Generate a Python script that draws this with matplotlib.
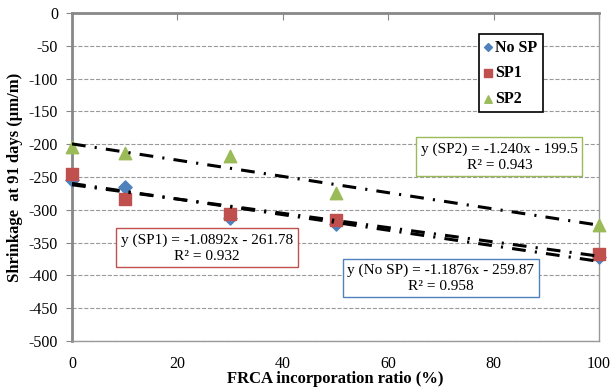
import matplotlib
matplotlib.use("Agg")
import matplotlib.pyplot as plt
import numpy as np

plt.rcParams.update({
    "font.family": ["Liberation Serif", "DejaVu Serif"],
    "font.size": 11,
    "axes.unicode_minus": False,
})

# data
x_ratio = [0, 10, 30, 50, 100]
no_sp = [-255, -265, -312, -322, -372]
sp1 = [-245, -283, -307, -315, -367]
sp2 = [-205, -213, -218, -275, -323]

# published trendline coefficients (slope, intercept, R2)
fits = {
    "No SP": (-1.1876, -259.87, 0.958),
    "SP1": (-1.0892, -261.78, 0.932),
    "SP2": (-1.240, -199.5, 0.943),
}

BLUE = "#4F81BD"
RED = "#C0504D"
GREEN = "#9BBB59"

fig = plt.figure(figsize=(6.13, 3.91), dpi=100)
ax = fig.add_axes([72 / 613, 1 - 341 / 391, 527 / 613, 328 / 391])

ax.scatter(x_ratio, no_sp, marker="D", s=45, color=BLUE, label="No SP",
           zorder=3, clip_on=False)
ax.scatter(x_ratio, sp1, marker="s", s=80, color=RED, label="SP1",
           zorder=4, clip_on=False)
ax.scatter(x_ratio, sp2, marker="^", s=80, color=GREEN, label="SP2",
           zorder=4, clip_on=False)

xx = np.array([0, 100])
for name in ["SP2", "SP1", "No SP"]:
    m, b, _ = fits[name]
    ax.plot(xx, m * xx + b, color="black", lw=2.2,
            dashes=(4.5, 3, 0.7, 3), zorder=5)

ax.set_xlim(0, 100)
ax.set_ylim(-500, 0)
ax.set_xticks(np.arange(0, 101, 20))
ax.set_yticks(np.arange(-500, 1, 50))
ax.tick_params(axis="x", top=True, bottom=False, direction="in",
               length=5, color="#888888", labelsize=11.5, pad=11)
ax.tick_params(axis="y", direction="out", length=4, color="#888888",
               labelsize=11.5, pad=6)
ax.grid(axis="y", linestyle="--", color="#999999", lw=0.8)
ax.set_axisbelow(True)
for s in ax.spines.values():
    s.set_color("#999999")
    s.set_linewidth(1.0)
ax.spines["left"].set_color("#888888")
ax.spines["left"].set_linewidth(2.0)
ax.spines["top"].set_color("#888888")
ax.spines["top"].set_linewidth(2.0)

ax.set_xlabel("FRCA incorporation ratio (%)", fontweight="bold", fontsize=12, labelpad=-1)
ax.set_ylabel("Shrinkage  at 91 days (µm/m)", fontweight="bold", fontsize=12, labelpad=4)

leg = ax.legend(loc="upper left", bbox_to_anchor=(0.772, 0.936), frameon=True,
                fancybox=False, edgecolor="black", handlelength=0.5,
                handletextpad=0.15, borderpad=0.35, borderaxespad=0,
                labelspacing=0.6, markerscale=0.6,
                prop={"weight": "bold", "size": 11.5})
leg.get_frame().set_linewidth(1.2)
leg.get_frame().set_alpha(1)


def eq_box(x, y, name, color):
    m, b, r2 = fits[name]
    mtxt = f"{m:.4f}" if name != "SP2" else f"{m:.3f}"
    btxt = f"{abs(b):.2f}" if name != "SP2" else f"{abs(b):.1f}"
    txt = f"y ({name}) = {mtxt}x - {btxt}\nR² = {r2:.3f}"
    ax.text(x, y, txt, ha="center", va="center", fontsize=11,
            linespacing=1.3,
            bbox=dict(boxstyle="square,pad=0.3", fc="white", ec=color, lw=1.0),
            zorder=6)


eq_box(81.1, -219.5, "SP2", GREEN)
eq_box(25.6, -358, "SP1", RED)
eq_box(70.0, -404, "No SP", BLUE)

fig.savefig("out.png", dpi=100)
